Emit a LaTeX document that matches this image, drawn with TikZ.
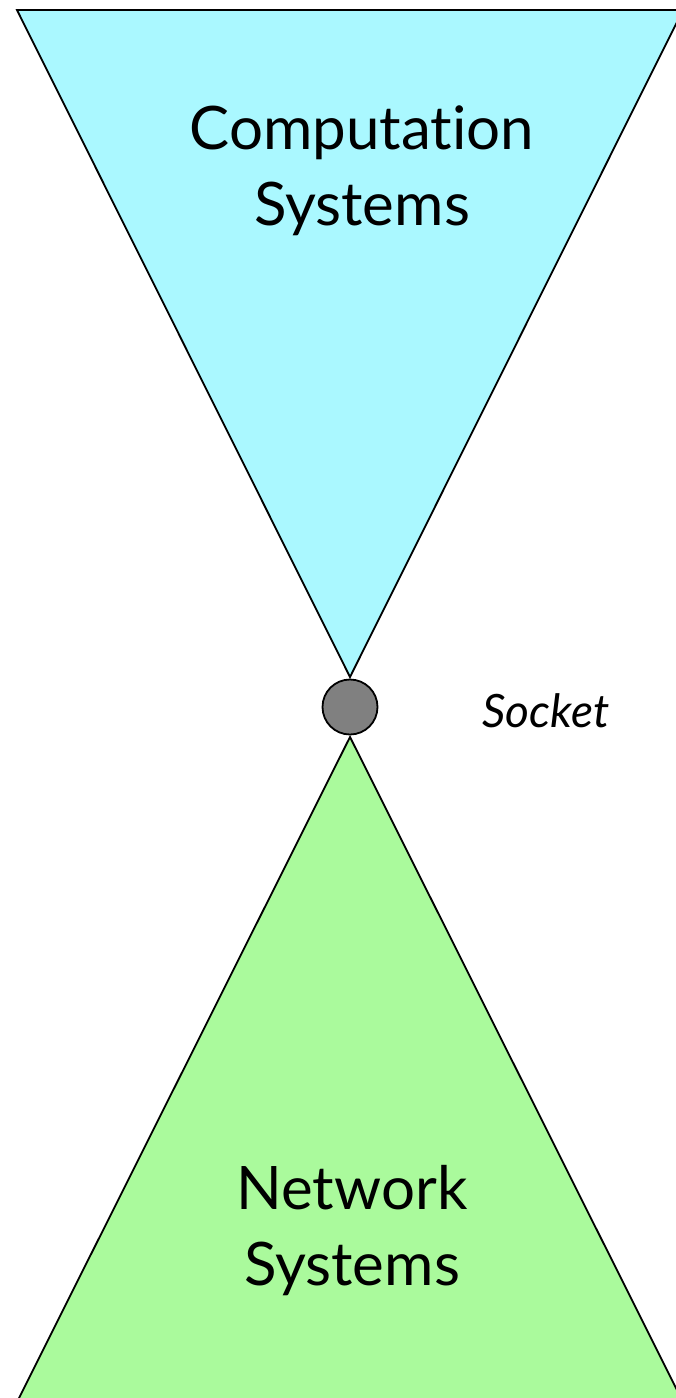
\documentclass[tikz,border=0pt]{standalone}
\usepackage{fontspec}
\setmainfont[Ligatures=NoCommon]{Lato}
\definecolor{topfill}{HTML}{AAF8FF}
\definecolor{botfill}{HTML}{AAFA9C}
\definecolor{sockfill}{HTML}{808080}
\begin{document}
\begin{tikzpicture}[x=1pt,y=-1pt,
  tri/.style={draw=black,line width=1.8pt,line join=miter},
  bigtext/.style={font=\fontsize{60}{76}\selectfont,align=center,inner sep=0pt},
  socklabel/.style={font=\itshape\fontsize{46}{52}\selectfont,inner sep=0pt}]
\useasboundingbox (0,0) rectangle (676,1398);
\begin{scope}
\clip (0,0) rectangle (676,1398);
\fill[white] (0,0) rectangle (676,1398);
\draw[tri,fill=topfill] (17,10) -- (683,10) -- (350,677) -- cycle;
\draw[tri,fill=botfill] (350,737) -- (682,1400) -- (18,1400) -- cycle;
\end{scope}
\node[circle,draw=black,line width=1.8pt,fill=sockfill,minimum size=55pt,inner sep=0pt] (sock) at (350,707) {};
\node[bigtext] (comp) at (362,171) {Computation\\Systems};
\node[bigtext] (net) at (352,1231) {Network\\Systems};
\node[socklabel] (slabel) at (546,711) {Socket};
\end{tikzpicture}
\end{document}
